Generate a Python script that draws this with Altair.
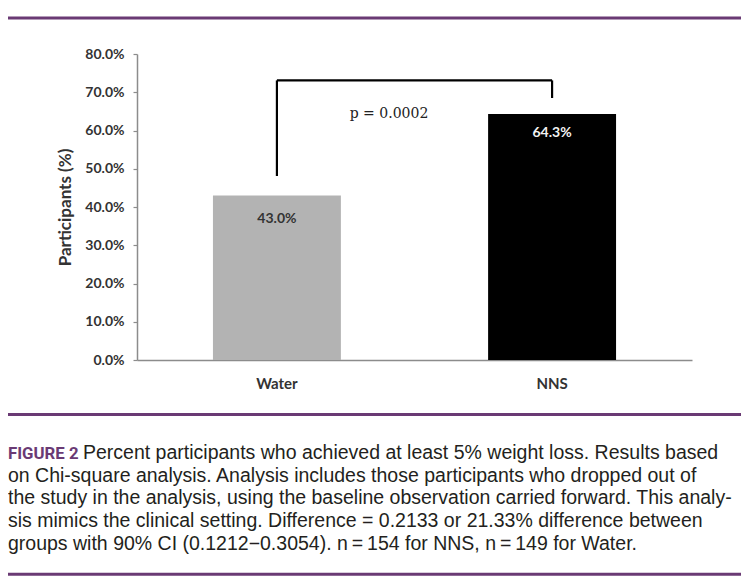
import altair as alt
import pandas as pd

# ---- data ----
groups = ["Water", "NNS"]
values = [0.430, 0.643]
bar_colors = ["#b3b3b3", "#000000"]
y_ticks = [0.0, 0.1, 0.2, 0.3, 0.4, 0.5, 0.6, 0.7, 0.8]

bracket_top = 0.731
bracket_left_bottom = 0.481
bracket_right_bottom = 0.685
p_label = "p = 0.0002"
p_y = 0.642

caption_head = "FIGURE 2"
caption_lines = [
    "Percent participants who achieved at least 5% weight loss. Results based",
    "on Chi-square analysis. Analysis includes those participants who dropped out of",
    "the study in the analysis, using the baseline observation carried forward. This analy-",
    "sis mimics the clinical setting. Difference = 0.2133 or 21.33% difference between",
    "groups with 90% CI (0.1212\u22120.3054). n\u2009=\u2009154 for NNS, n\u2009=\u2009149 for Water.",
]

df = pd.DataFrame({"group": groups, "value": values, "color": bar_colors})
df["label"] = [f"{v*100:.1f}%" for v in values]

PURPLE = "#6a3a74"
CAP_FONT = "Liberation Sans"
CAL = "Lato"

xscale = alt.Scale(domain=groups, paddingInner=0.535, paddingOuter=0.276)
yscale = alt.Scale(domain=[0, 0.8])
xaxis = alt.Axis(title=None, ticks=False, labelPadding=16, labelAngle=0)
yaxis = alt.Axis(title="Participants (%)", values=y_ticks, format=".1%",
                 grid=False, tickSize=4, labelPadding=9, titlePadding=10,
                 labelOverlap=False)


def xe(f):
    return alt.X(f, scale=xscale, axis=xaxis, sort=groups)


def ye(f):
    return alt.Y(f, scale=yscale, axis=yaxis)


base = alt.Chart(df)

bars = base.mark_bar().encode(
    x=xe("group:N"), y=ye("value:Q"),
    color=alt.Color("color:N", scale=None),
)

lab_water = base.transform_filter(alt.datum.group == "Water").mark_text(
    baseline="middle", dy=23.5, font=CAL, fontWeight="bold", fontSize=14, color="#333333"
).encode(x=xe("group:N"), y=ye("value:Q"), text="label:N")

lab_nns = base.transform_filter(alt.datum.group == "NNS").mark_text(
    baseline="middle", dy=18.5, font=CAL, fontWeight="bold", fontSize=14, color="#f2f2f2"
).encode(x=xe("group:N"), y=ye("value:Q"), text="label:N")

br_h = pd.DataFrame({"group": [groups[0]], "b": [groups[1]], "value": [bracket_top]})
br_v = pd.DataFrame({"group": groups, "value": [bracket_left_bottom, bracket_right_bottom],
                     "y2": [bracket_top, bracket_top]})

bracket_h = alt.Chart(br_h).mark_rule(color="black", strokeWidth=2.2).encode(
    x=xe("group:N"), x2="b:N", y=ye("value:Q"))
bracket_v = alt.Chart(br_v).mark_rule(color="black", strokeWidth=2.2).encode(
    x=xe("group:N"), y=ye("value:Q"), y2="y2:Q")

ptext = alt.Chart(pd.DataFrame({"t": [p_label], "value": [p_y]})).mark_text(
    font="DejaVu Serif", fontSize=14, color="#222222", baseline="middle", align="center"
).encode(x=alt.value(252), y=ye("value:Q"), text="t:N")

one = alt.Data(values=[{"k": 1}])


def hline(ypx):
    return alt.Chart(one).mark_rule(color=PURPLE, strokeWidth=3).encode(
        x=alt.value(-129), x2=alt.value(610), y=alt.value(ypx))


rules = [hline(-36), hline(360.5), hline(520.3)]

cap_y = [405.2, 427.8, 450.4, 473.0, 495.6]
cap_layers = [
    alt.Chart(one).mark_text(font="Roboto", fontWeight="bold", fontSize=16.8, color=PURPLE,
                             align="left", baseline="alphabetic").encode(
        x=alt.value(-129), y=alt.value(cap_y[0]), text=alt.value(caption_head))
]
for i, line in enumerate(caption_lines):
    cap_layers.append(
        alt.Chart(one).mark_text(font=CAP_FONT, fontSize=19.5, color="#231f20",
                                 align="left", baseline="alphabetic").encode(
            x=alt.value(-54 if i == 0 else -129), y=alt.value(cap_y[i]), text=alt.value(line))
    )

chart = alt.layer(bars, lab_water, lab_nns, bracket_h, bracket_v, ptext, *rules, *cap_layers).properties(
    width=555, height=306,
    autosize=alt.AutoSizeParams(type="none"),
    padding={"left": 129, "top": 46, "right": 49, "bottom": 216},
    background="white",
).configure_view(stroke=None).configure_axis(
    labelFont=CAL, labelFontWeight="bold", labelFontSize=14, labelColor="#333333",
    titleFont=CAL, titleFontWeight="bold", titleFontSize=17, titleColor="#333333",
    domainColor="#8c8c8c", domainWidth=1.5, tickColor="#8c8c8c", tickWidth=1.2,
).configure_axisX(labelFontSize=15)

chart.save("out.html", embed_options={"renderer": "svg", "actions": False})
